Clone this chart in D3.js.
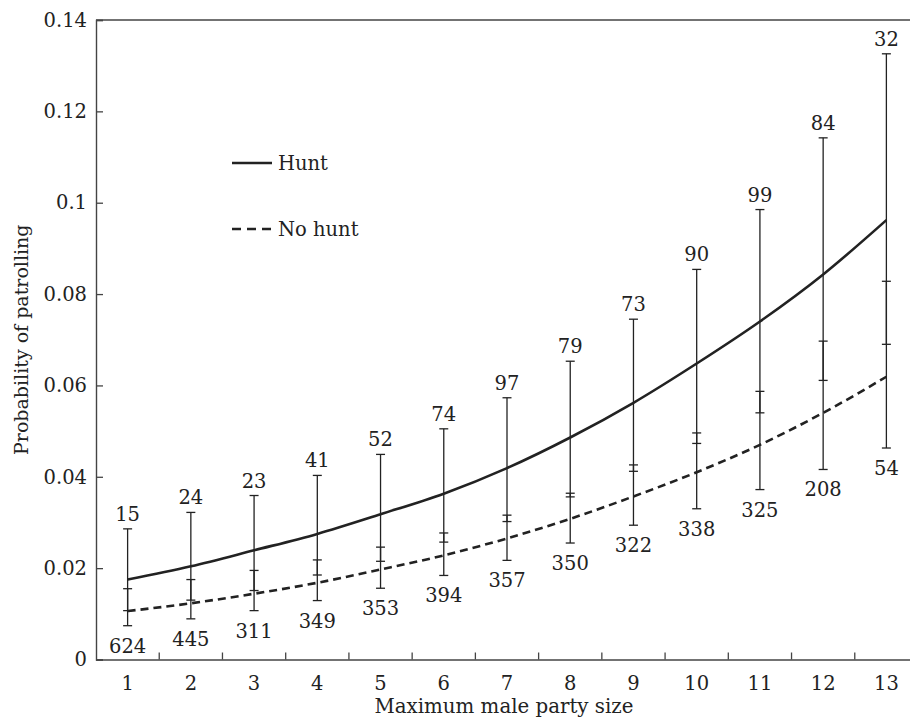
<!DOCTYPE html>
<html>
<head>
<meta charset="utf-8">
<script src="https://cdn.jsdelivr.net/npm/d3@7"></script>
<style>
  html, body { margin: 0; padding: 0; background: #fff; }
  svg { display: block; }
  text { font-family: "DejaVu Serif", "Liberation Serif", serif; fill: #222; }
</style>
</head>
<body>
<svg id="chart" width="910" height="724"></svg>
<script>
// ---- data ----
const partySizes = [1,2,3,4,5,6,7,8,9,10,11,12,13];
const huntN   = [15,24,23,41,52,74,97,79,73,90,99,84,32];
const noHuntN = [624,445,311,349,353,394,357,350,322,338,325,208,54];

const huntMean = [0.0175,0.0204,0.0239,0.0275,0.0318,0.0363,0.0419,0.0486,0.0562,0.0648,0.0740,0.0843,0.0962];
const huntLow  = [0.0107,0.0130,0.0151,0.0185,0.0215,0.0257,0.0302,0.0356,0.0412,0.0473,0.0540,0.0611,0.0690];
const huntHigh = [0.0286,0.0322,0.0359,0.0403,0.0449,0.0505,0.0573,0.0653,0.0745,0.0854,0.0985,0.1142,0.1326];

const noHuntMean = [0.0106,0.0123,0.0144,0.0168,0.0197,0.0228,0.0265,0.0308,0.0357,0.0410,0.0470,0.0540,0.0619];
const noHuntLow  = [0.0074,0.0089,0.0107,0.0129,0.0156,0.0184,0.0217,0.0255,0.0294,0.0330,0.0372,0.0416,0.0463];
const noHuntHigh = [0.0155,0.0175,0.0195,0.0218,0.0246,0.0277,0.0316,0.0364,0.0426,0.0496,0.0587,0.0697,0.0828];

const yTicks = [0,0.02,0.04,0.06,0.08,0.1,0.12,0.14];
const yTickLabels = ["0","0.02","0.04","0.06","0.08","0.1","0.12","0.14"];
const seriesNames = ["Hunt","No hunt"];
const xTitle = "Maximum male party size";
const yTitle = "Probability of patrolling";

// ---- layout ----
const L = 96, R = 918, T = 20, B = 659.5;
const ink = "#222";
const svg = d3.select("#chart");

const x = d3.scaleBand().domain(partySizes).range([L, R]).padding(0);
const cx = d => x(d) + x.bandwidth() / 2;
const y = d3.scaleLinear().domain([0, 0.14]).range([B, T]);

// frame
svg.append("line").attr("x1", L).attr("x2", R).attr("y1", T).attr("y2", T)
  .attr("stroke", "#444").attr("stroke-width", 1.4);

// y axis
const yAxis = svg.append("g").attr("transform", `translate(${L},0)`)
  .call(d3.axisLeft(y).tickValues(yTicks).tickSize(-7).tickPadding(9)
    .tickFormat((d, i) => yTickLabels[i]));
yAxis.select(".domain").attr("stroke", "#444").attr("stroke-width", 1.4);
yAxis.selectAll(".tick line").attr("stroke", "#444").attr("stroke-width", 1.3);
yAxis.selectAll(".tick text").attr("font-size", 19.5).attr("fill", ink)
  .attr("font-family", '"DejaVu Serif", serif');

// x axis
const xAxis = svg.append("g").attr("transform", `translate(0,${B})`)
  .call(d3.axisBottom(x).tickSize(0).tickPadding(17));
xAxis.select(".domain").attr("stroke", "#444").attr("stroke-width", 1.4);
xAxis.selectAll(".tick text").attr("font-size", 19.5).attr("fill", ink)
  .attr("font-family", '"DejaVu Serif", serif');
// boundary ticks between categories
svg.append("g").selectAll("line").data(partySizes.slice(1)).join("line")
  .attr("x1", d => x(d)).attr("x2", d => x(d))
  .attr("y1", B).attr("y2", B - 7)
  .attr("stroke", "#444").attr("stroke-width", 1.3);

// titles
svg.append("text").attr("x", (L + R) / 2 - 3).attr("y", 713)
  .attr("text-anchor", "middle").attr("font-size", 19.8).text(xTitle);
svg.append("text").attr("transform", `translate(28,${(T + B) / 2}) rotate(-90)`)
  .attr("text-anchor", "middle").attr("font-size", 19).text(yTitle);

// error bars
const capW = 4.5;
function errorBars(low, high) {
  const g = svg.append("g").attr("stroke", ink).attr("stroke-width", 1.3);
  partySizes.forEach((d, i) => {
    const xc = cx(d);
    g.append("line").attr("x1", xc).attr("x2", xc).attr("y1", y(low[i])).attr("y2", y(high[i]));
    g.append("line").attr("x1", xc - capW).attr("x2", xc + capW).attr("y1", y(low[i])).attr("y2", y(low[i]));
    g.append("line").attr("x1", xc - capW).attr("x2", xc + capW).attr("y1", y(high[i])).attr("y2", y(high[i]));
  });
}
errorBars(huntLow, huntHigh);
errorBars(noHuntLow, noHuntHigh);

// curves
const line = d3.line().x((d, i) => cx(partySizes[i])).y(d => y(d)).curve(d3.curveMonotoneX);
svg.append("path").attr("d", line(huntMean)).attr("fill", "none")
  .attr("stroke", ink).attr("stroke-width", 2.6);
svg.append("path").attr("d", line(noHuntMean)).attr("fill", "none")
  .attr("stroke", ink).attr("stroke-width", 2.6).attr("stroke-dasharray", "8,5");

// sample size labels
svg.append("g").selectAll("text").data(partySizes).join("text")
  .attr("x", d => cx(d)).attr("y", (d, i) => y(huntHigh[i]) - 8)
  .attr("text-anchor", "middle").attr("font-size", 19.5).text((d, i) => huntN[i]);
svg.append("g").selectAll("text").data(partySizes).join("text")
  .attr("x", d => cx(d)).attr("y", (d, i) => y(noHuntLow[i]) + 27)
  .attr("text-anchor", "middle").attr("font-size", 19.5).text((d, i) => noHuntN[i]);

// legend
const lg = svg.append("g");
lg.append("line").attr("x1", 232).attr("x2", 272).attr("y1", 163).attr("y2", 163)
  .attr("stroke", ink).attr("stroke-width", 2.6);
lg.append("text").attr("x", 278).attr("y", 169.5).attr("font-size", 19.5).text(seriesNames[0]);
lg.append("line").attr("x1", 232).attr("x2", 272).attr("y1", 229).attr("y2", 229)
  .attr("stroke", ink).attr("stroke-width", 2.6).attr("stroke-dasharray", "9,6");
lg.append("text").attr("x", 278).attr("y", 235.5).attr("font-size", 19.5).text(seriesNames[1]);
</script>
</body>
</html>
